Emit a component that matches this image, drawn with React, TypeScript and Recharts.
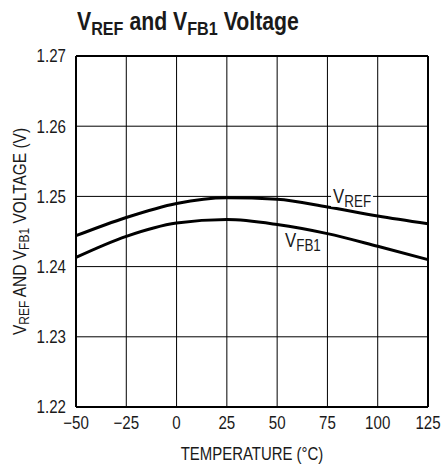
import { LineChart, Line, XAxis, YAxis, CartesianGrid, ReferenceLine, ReferenceDot, Label } from 'recharts';

const temps = [-50, -25, 0, 25, 50, 75, 100, 125];
const vref = [1.2444, 1.247, 1.249, 1.2498, 1.2496, 1.2485, 1.2472, 1.2461];
const vfb1 = [1.2413, 1.2443, 1.2462, 1.2467, 1.246, 1.2447, 1.2429, 1.241];
const xTicks = [-50, -25, 0, 25, 50, 75, 100, 125];
const yTicks = [1.22, 1.23, 1.24, 1.25, 1.26, 1.27];

const data = temps.map((t, i) => ({ t, vref: vref[i], vfb1: vfb1[i] }));

// no narrow font installed, so squeeze Liberation Sans sideways
const FONT = '"Liberation Sans", Arial, sans-serif';
const SQ = 0.84;

function XTick({ x, y, payload }: any) {
  const v = payload.value;
  const s = v < 0 ? '\u2212' + Math.abs(v) : String(v);
  return (
    <text transform={`translate(${x},${y}) scale(${SQ},1)`} textAnchor="middle" dy="0.71em" fontFamily={FONT} fontSize={18} fill="#1a1a1a">
      {s}
    </text>
  );
}

function YTick({ x, y, payload }: any) {
  return (
    <text transform={`translate(${x},${y}) scale(${SQ},1)`} textAnchor="end" dy="0.355em" fontFamily={FONT} fontSize={18} fill="#1a1a1a">
      {payload.value.toFixed(2)}
    </text>
  );
}

function SubLabel({ viewBox, sub, bg }: any) {
  const x = viewBox.x + viewBox.width / 2;
  const y = viewBox.y + viewBox.height / 2;
  return (
    <g>
      {bg && <rect x={x - 2} y={y - 15} width={42} height={19} fill="#fff" />}
      <text transform={`translate(${x},${y}) scale(${SQ},1)`} fontFamily={FONT} fontSize={20} fill="#1a1a1a">
        V<tspan fontSize={16} dy={4}>{sub}</tspan>
      </text>
    </g>
  );
}

function YTitle({ viewBox }: any) {
  const cx = 20;
  const cy = viewBox.y + viewBox.height / 2;
  return (
    <text transform={`translate(${cx},${cy}) rotate(-90) scale(0.86,1)`} textAnchor="middle" dominantBaseline="central" fontFamily={FONT} fontSize={18} fill="#1a1a1a">
      V<tspan fontSize={14} dy={4}>REF</tspan>
      <tspan dy={-4}> AND V</tspan>
      <tspan fontSize={14} dy={4}>FB1</tspan>
      <tspan dy={-4}> VOLTAGE (V)</tspan>
    </text>
  );
}

function XTitle({ viewBox }: any) {
  const cx = viewBox.x + viewBox.width / 2;
  return (
    <text transform={`translate(${cx},460) scale(0.83,1)`} textAnchor="middle" fontFamily={FONT} fontSize={18} fill="#1a1a1a">
      TEMPERATURE (°C)
    </text>
  );
}

export default function App() {
  return (
    <div style={{ position: 'absolute', left: 0, top: 0, width: 445, height: 466, background: '#fff' }}>
      <div
        style={{
          position: 'absolute',
          left: 77,
          top: 7,
          fontFamily: FONT,
          fontWeight: 'bold',
          fontSize: 25,
          color: '#1a1a1a',
          whiteSpace: 'nowrap',
          transform: 'scaleX(0.85)',
          transformOrigin: 'left top',
        }}
      >
        V<sub style={{ fontSize: 19, verticalAlign: -5 }}>REF</sub> and V<sub style={{ fontSize: 19, verticalAlign: -5 }}>FB1</sub> Voltage
      </div>
      <LineChart width={445} height={466} data={data} margin={{ top: 56, right: 17, bottom: 29, left: 16 }}>
        <CartesianGrid stroke="#000" strokeWidth={1} fill="none" />
        <XAxis
          dataKey="t"
          type="number"
          domain={[-50, 125]}
          ticks={xTicks}
          height={30}
          tickSize={0}
          tickMargin={9}
          tick={<XTick />}
          axisLine={{ stroke: '#000', strokeWidth: 2 }}
        >
          <Label content={<XTitle />} />
        </XAxis>
        <YAxis
          type="number"
          domain={[1.22, 1.27]}
          ticks={yTicks}
          width={60}
          tickSize={0}
          tickMargin={10}
          tick={<YTick />}
          axisLine={{ stroke: '#000', strokeWidth: 2 }}
        >
          <Label content={<YTitle />} />
        </YAxis>
        <ReferenceLine y={1.27} stroke="#000" strokeWidth={2} />
        <ReferenceLine x={125} stroke="#000" strokeWidth={2} />
        <Line type="monotone" dataKey="vref" stroke="#000" strokeWidth={3} dot={false} isAnimationActive={false} />
        <Line type="monotone" dataKey="vfb1" stroke="#000" strokeWidth={3} dot={false} isAnimationActive={false} />
        <ReferenceDot x={77.8} y={1.2491} r={0} fill="none" stroke="none" label={<SubLabel sub="REF" bg />} />
        <ReferenceDot x={53.9} y={1.24283} r={0} fill="none" stroke="none" label={<SubLabel sub="FB1" />} />
      </LineChart>
    </div>
  );
}
